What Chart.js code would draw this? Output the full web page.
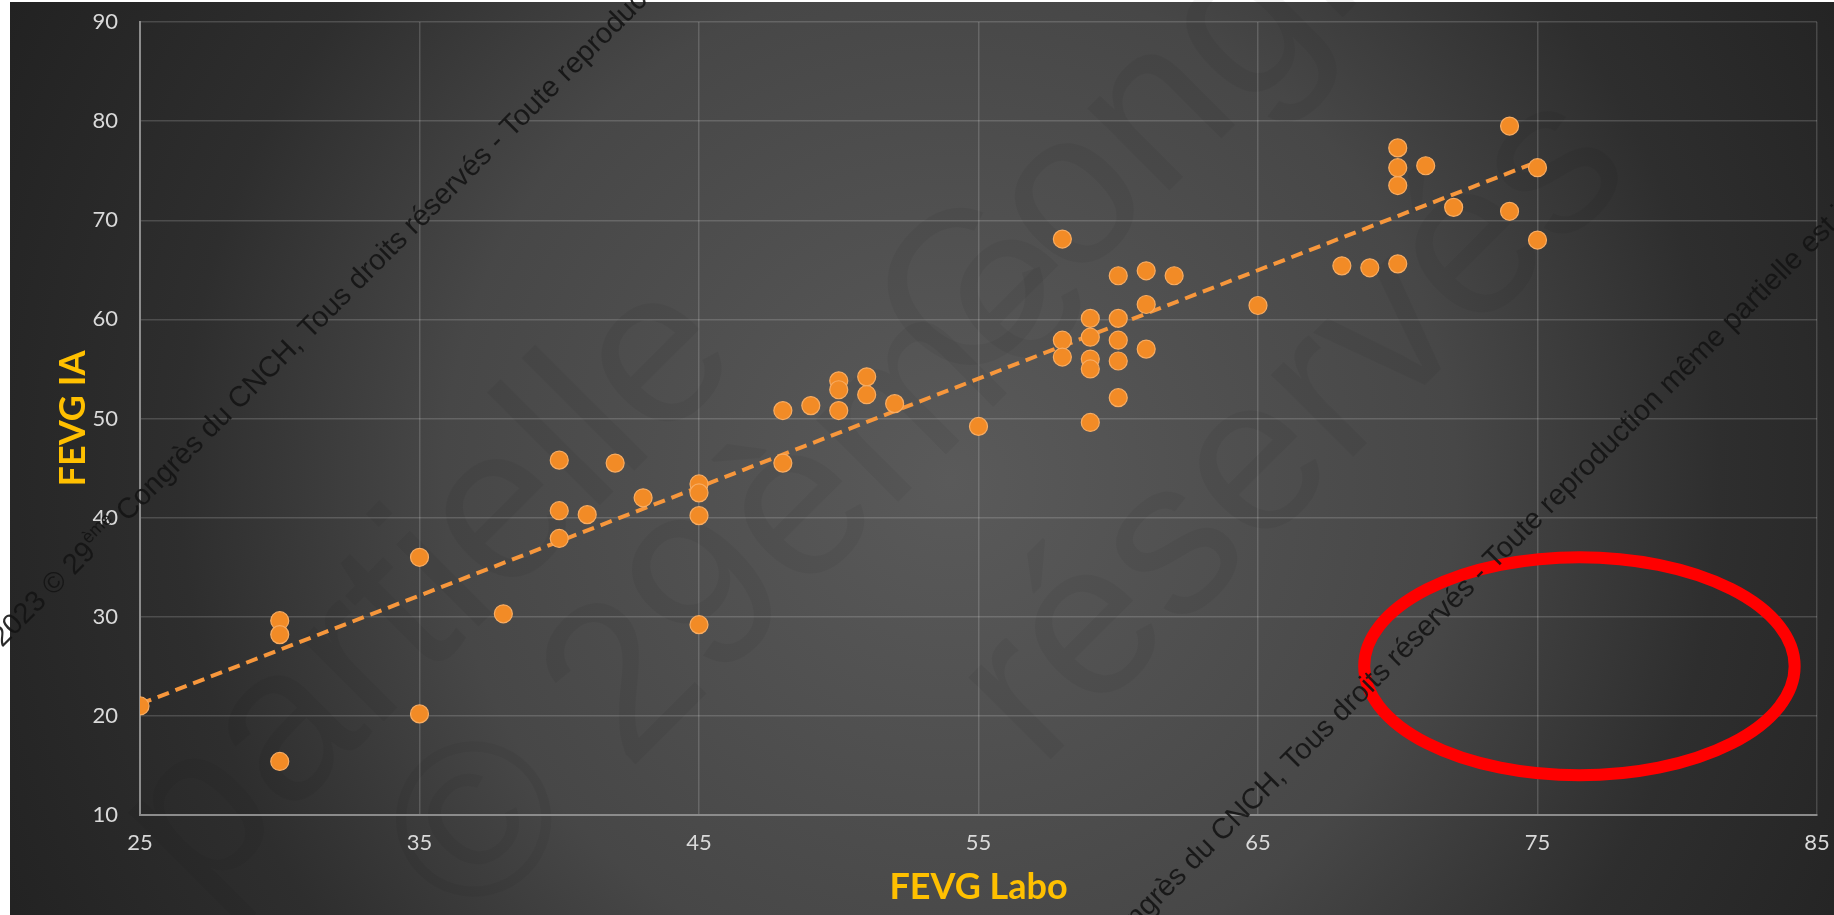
<!DOCTYPE html>
<html>
<head>
<meta charset="utf-8">
<title>FEVG IA vs FEVG Labo</title>
<script src="https://cdn.jsdelivr.net/npm/chart.js@4.4.1/dist/chart.umd.min.js"></script>
<style>
  html, body { margin: 0; padding: 0; background: #fff; overflow: hidden; }
  canvas { display: block; }
</style>
</head>
<body>
<canvas id="fevgChart" width="1834" height="915"></canvas>
<script>
// FEVG measured in the lab (x) vs FEVG estimated by AI (y)
const laboValues = [
  25, 30, 30, 30, 35, 35, 38, 40, 40, 40, 41, 42, 43, 45, 45, 45, 45,
  48, 48, 49, 50, 50, 50, 51, 51, 52, 55,
  58, 58, 58, 59, 59, 59, 59, 59, 60, 60, 60, 60, 60, 61, 61, 61, 62,
  65, 68, 69, 70, 70, 70, 70, 71, 72, 74, 74, 75, 75
];
const iaValues = [
  21.0, 29.6, 28.2, 15.4, 36.0, 20.2, 30.3, 45.8, 40.7, 37.9, 40.3, 45.5, 42.0, 43.4, 42.5, 40.2, 29.2,
  50.8, 45.5, 51.3, 53.8, 52.9, 50.8, 54.2, 52.4, 51.5, 49.2,
  68.1, 57.9, 56.2, 60.1, 58.2, 56.0, 55.0, 49.6, 64.4, 60.1, 57.9, 55.8, 52.1, 64.9, 61.5, 57.0, 64.4,
  61.4, 65.4, 65.2, 77.3, 75.3, 73.5, 65.6, 75.5, 71.3, 79.5, 70.9, 75.3, 68.0
];

// linear trend line (Excel), ends
const trendX = [25, 75];
const trendY = [21.2, 75.9];

const xTicks = [25, 35, 45, 55, 65, 75, 85];
const yTicks = [10, 20, 30, 40, 50, 60, 70, 80, 90];

// red ellipse drawn on the slide (data units)
const circleCenter = [76.5, 25.0];
const circleRadius = [7.7, 11.0];

const watermarkParts = [
  ["2023 © 29", false],
  ["ème", true],
  [" Congrès du CNCH, Tous droits réservés - Toute reproduction même partielle est interdite", false]
];
// big faint words of the background watermark
const bigWords = ["partielle", "© 29ème", "réservés", "Congrès"];

const points = laboValues.map((x, i) => ({ x: x, y: iaValues[i] }));
const trendPoints = trendX.map((x, i) => ({ x: x, y: trendY[i] }));

const slideBackground = {
  id: 'slideBackground',
  beforeDraw(chart) {
    const c = chart.ctx;
    const w = chart.width, h = chart.height;
    c.save();
    c.fillStyle = '#ffffff';
    c.fillRect(0, 0, w, h);
    const g = c.createRadialGradient(950, 480, 0, 950, 480, 1100);
    g.addColorStop(0, '#5a5a5a');
    g.addColorStop(0.46, '#474747');
    g.addColorStop(0.7, '#2e2e2e');
    g.addColorStop(0.85, '#272727');
    g.addColorStop(1, '#202020');
    c.fillStyle = g;
    c.fillRect(10, 2, w - 10, h - 2);

    // large, very faint watermark words
    const spots = [[200, 905], [470, 930], [1040, 770], [960, 400]];
    c.fillStyle = 'rgba(0, 0, 0, 0.045)';
    c.font = '220px "Liberation Sans", Arial';
    bigWords.forEach((word, i) => {
      c.save();
      c.translate(spots[i][0], spots[i][1]);
      c.rotate(-Math.PI / 4);
      c.fillText(word, 0, 0);
      c.restore();
    });
    c.restore();
  }
};

function drawWatermark(c, x, y) {
  c.save();
  c.translate(x, y);
  c.rotate(-Math.PI / 4);
  c.fillStyle = 'rgba(20, 20, 20, 0.9)';
  c.textBaseline = 'alphabetic';
  let pos = 0;
  watermarkParts.forEach(([txt, sup]) => {
    c.font = sup ? '18px "Liberation Sans", Arial' : '29px "Liberation Sans", Arial';
    c.fillText(txt, pos, sup ? -12 : 0);
    pos += c.measureText(txt).width;
  });
  c.restore();
}

const overlays = {
  id: 'overlays',
  afterDraw(chart) {
    const c = chart.ctx;
    const xs = chart.scales.x, ys = chart.scales.y;
    // red ellipse
    const cx = xs.getPixelForValue(circleCenter[0]);
    const cy = ys.getPixelForValue(circleCenter[1]);
    const rx = Math.abs(xs.getPixelForValue(circleCenter[0] + circleRadius[0]) - cx);
    const ry = Math.abs(ys.getPixelForValue(circleCenter[1] + circleRadius[1]) - cy);
    c.save();
    c.strokeStyle = '#ff0000';
    c.lineWidth = 12;
    c.beginPath();
    c.ellipse(cx, cy, rx, ry, 0, 0, Math.PI * 2);
    c.stroke();
    c.restore();
    // copyright text
    drawWatermark(c, 2, 648);
    drawWatermark(c, 985, 1080);
  }
};

const tickFont = { family: 'Lato', size: 22 };
const titleFont = { family: 'Lato', size: 36, weight: 'bold' };

const ctx = document.getElementById('fevgChart').getContext('2d');

const fevgChart = new Chart(ctx, {
  type: 'scatter',
  data: {
    datasets: [{
      label: 'FEVG',
      data: points,
      pointRadius: 9,
      pointHoverRadius: 9,
      pointBackgroundColor: '#f28b26',
      pointBorderColor: '#f8ac62',
      pointBorderWidth: 1.2
    }, {
      type: 'line',
      label: 'Tendance',
      data: trendPoints,
      borderColor: '#f7973c',
      borderWidth: 4,
      borderDash: [12, 7],
      pointRadius: 0,
      fill: false,
      tension: 0
    }]
  },
  options: {
    responsive: false,
    animation: false,
    devicePixelRatio: 1,
    layout: {
      padding: { top: 22, right: 17, bottom: 0, left: 0 }
    },
    plugins: {
      legend: { display: false },
      tooltip: { enabled: false }
    },
    scales: {
      x: {
        type: 'linear',
        position: 'bottom',
        min: 25,
        max: 85,
        afterBuildTicks: axis => { axis.ticks = xTicks.map(v => ({ value: v })); },
        afterFit: scale => {
          scale.height = 100;
          scale.paddingLeft = 0;
          scale.paddingRight = 0;
        },
        grid: { color: 'rgba(255,255,255,0.16)', lineWidth: 1.5, drawTicks: false },
        border: { color: '#8c8c8c', width: 2 },
        ticks: { color: '#d9d9d9', font: tickFont, padding: 15 },
        title: {
          display: true,
          text: 'FEVG Labo',
          color: '#ffc000',
          font: titleFont,
          padding: { top: 0, bottom: 6 }
        }
      },
      y: {
        type: 'linear',
        min: 10,
        max: 90,
        afterBuildTicks: axis => { axis.ticks = yTicks.map(v => ({ value: v })); },
        afterFit: scale => {
          scale.width = 140;
          scale.paddingTop = 0;
          scale.paddingBottom = 0;
        },
        grid: { color: 'rgba(255,255,255,0.16)', lineWidth: 1.5, drawTicks: false },
        border: { color: '#8c8c8c', width: 2 },
        ticks: { color: '#d9d9d9', font: tickFont, padding: 22 },
        title: {
          display: true,
          text: 'FEVG IA',
          color: '#ffc000',
          font: titleFont,
          padding: { top: 52, bottom: 0 }
        }
      }
    }
  },
  plugins: [slideBackground, overlays]
});
</script>
</body>
</html>
